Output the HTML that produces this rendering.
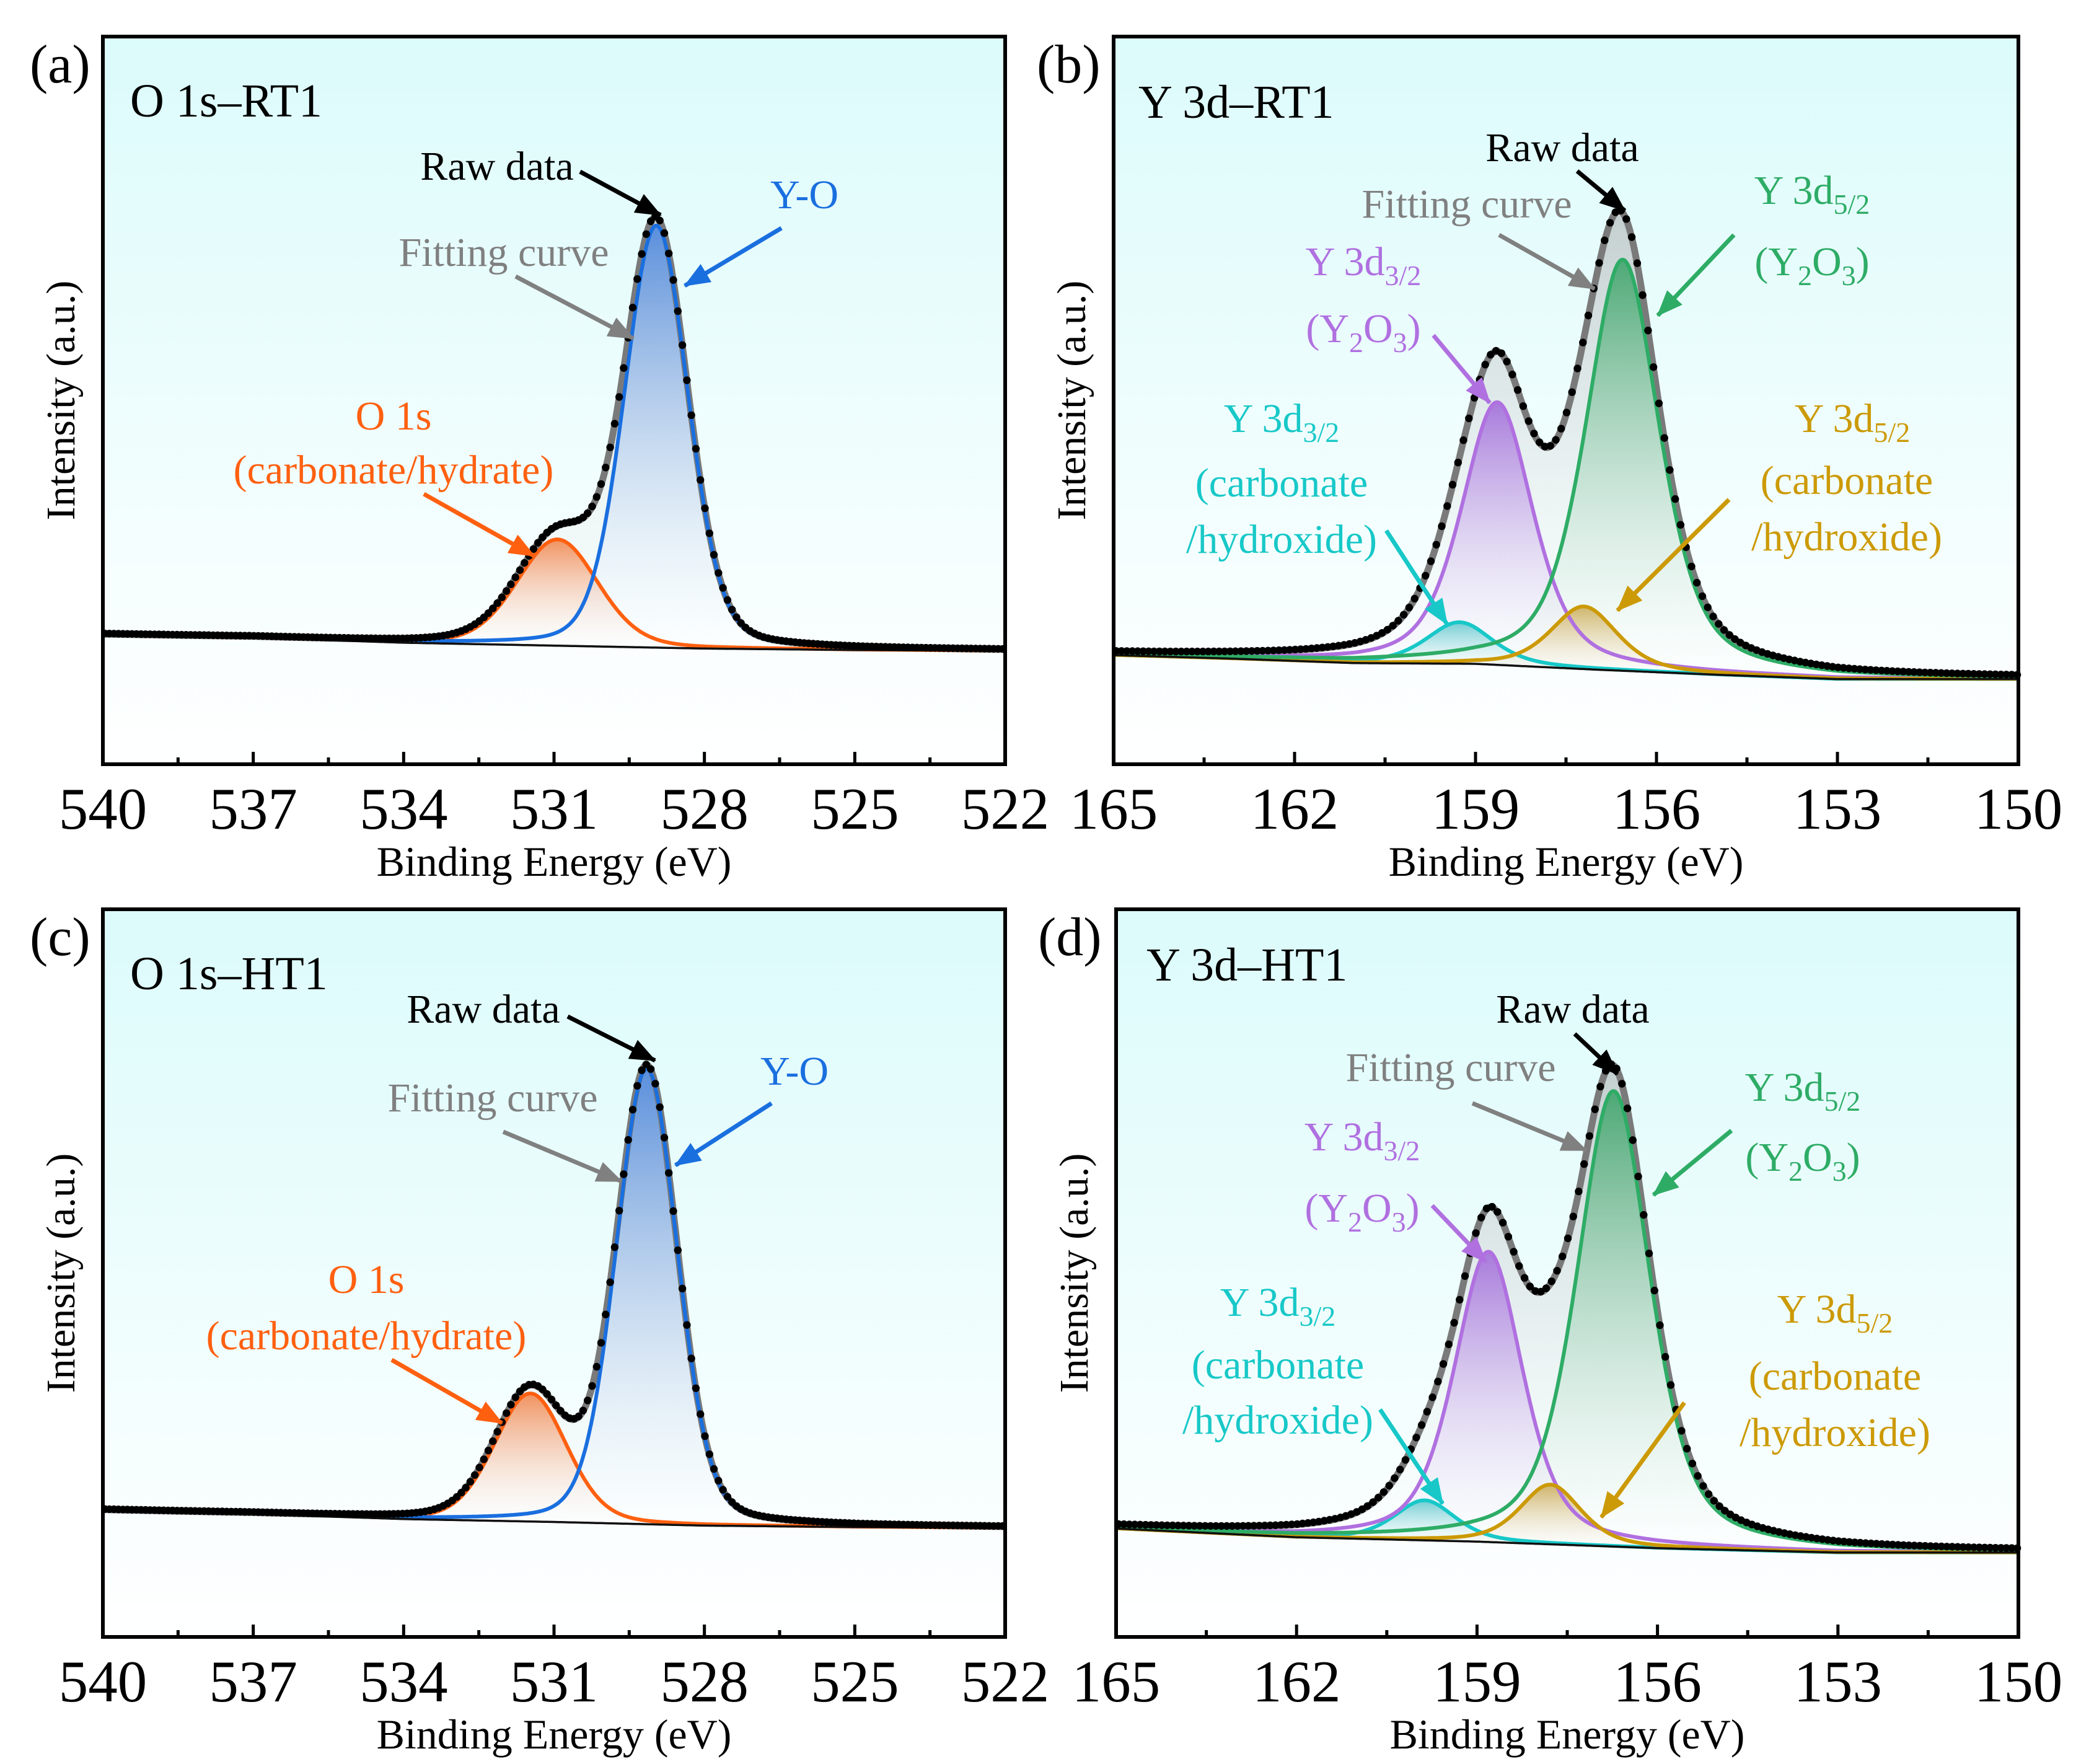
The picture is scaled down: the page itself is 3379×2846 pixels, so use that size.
<!DOCTYPE html>
<html><head><meta charset="utf-8"><style>
html,body{margin:0;padding:0;background:#fff}
svg{display:block}
text{font-family:"Liberation Serif","Times New Roman",serif}
</style></head><body>
<svg id="fig" xmlns="http://www.w3.org/2000/svg" width="3379" height="2846" viewBox="0 0 3379 2846" font-family="Liberation Serif, serif">
<defs>
<linearGradient id="plotbg" x1="0" y1="0" x2="0" y2="1"><stop offset="0" stop-color="#dcfbfb"/><stop offset="1" stop-color="#ffffff"/></linearGradient>
<marker id="ah-black" markerUnits="userSpaceOnUse" markerWidth="44" markerHeight="34" refX="40" refY="17" orient="auto"><path d="M0,0 L42,17 L0,34 Z" fill="#000"/></marker>
<marker id="ah-gray" markerUnits="userSpaceOnUse" markerWidth="44" markerHeight="34" refX="40" refY="17" orient="auto"><path d="M0,0 L42,17 L0,34 Z" fill="#808080"/></marker>
<marker id="ah-blue" markerUnits="userSpaceOnUse" markerWidth="44" markerHeight="34" refX="40" refY="17" orient="auto"><path d="M0,0 L42,17 L0,34 Z" fill="#1a6fdf"/></marker>
<marker id="ah-orange" markerUnits="userSpaceOnUse" markerWidth="44" markerHeight="34" refX="40" refY="17" orient="auto"><path d="M0,0 L42,17 L0,34 Z" fill="#ff6010"/></marker>
<marker id="ah-purple" markerUnits="userSpaceOnUse" markerWidth="44" markerHeight="34" refX="40" refY="17" orient="auto"><path d="M0,0 L42,17 L0,34 Z" fill="#b070e0"/></marker>
<marker id="ah-green" markerUnits="userSpaceOnUse" markerWidth="44" markerHeight="34" refX="40" refY="17" orient="auto"><path d="M0,0 L42,17 L0,34 Z" fill="#2eac66"/></marker>
<marker id="ah-cyan" markerUnits="userSpaceOnUse" markerWidth="44" markerHeight="34" refX="40" refY="17" orient="auto"><path d="M0,0 L42,17 L0,34 Z" fill="#18c8c8"/></marker>
<marker id="ah-gold" markerUnits="userSpaceOnUse" markerWidth="44" markerHeight="34" refX="40" refY="17" orient="auto"><path d="M0,0 L42,17 L0,34 Z" fill="#cc9a06"/></marker>
</defs>
<g id="layer-plots"></g>
<g id="layer-annot" font-size="66">
<text x="48" y="133" font-size="88">(a)</text>
<text x="1673" y="133" font-size="88">(b)</text>
<text x="48" y="1541" font-size="88">(c)</text>
<text x="1675" y="1541" font-size="88">(d)</text>
<text x="210" y="188" font-size="76">O 1s–RT1</text>
<text x="1837" y="190" font-size="76">Y 3d–RT1</text>
<text x="210" y="1596" font-size="76">O 1s–HT1</text>
<text x="1850" y="1582" font-size="76">Y 3d–HT1</text>

<text x="802" y="290" text-anchor="middle">Raw data</text>
<line x1="936" y1="277" x2="1066" y2="347" stroke="#000" stroke-width="7" marker-end="url(#ah-black)"/>
<text x="1298" y="336" text-anchor="middle" fill="#1a6fdf">Y-O</text>
<line x1="1261" y1="368" x2="1105" y2="461" stroke="#1a6fdf" stroke-width="7" marker-end="url(#ah-blue)"/>
<text x="813" y="429" text-anchor="middle" fill="#808080">Fitting curve</text>
<line x1="832" y1="446" x2="1022" y2="546" stroke="#808080" stroke-width="7" marker-end="url(#ah-gray)"/>
<text x="635" y="693" text-anchor="middle" fill="#ff6010">O 1s</text>
<text x="635" y="780" text-anchor="middle" fill="#ff6010">(carbonate/hydrate)</text>
<line x1="684" y1="797" x2="862" y2="897" stroke="#ff6010" stroke-width="7" marker-end="url(#ah-orange)"/>

<text x="780" y="1650" text-anchor="middle">Raw data</text>
<line x1="916" y1="1640" x2="1057" y2="1711" stroke="#000" stroke-width="7" marker-end="url(#ah-black)"/>
<text x="1282" y="1750" text-anchor="middle" fill="#1a6fdf">Y-O</text>
<line x1="1245" y1="1780" x2="1090" y2="1880" stroke="#1a6fdf" stroke-width="7" marker-end="url(#ah-blue)"/>
<text x="795" y="1793" text-anchor="middle" fill="#808080">Fitting curve</text>
<line x1="812" y1="1826" x2="1003" y2="1906" stroke="#808080" stroke-width="7" marker-end="url(#ah-gray)"/>
<text x="591" y="2086" text-anchor="middle" fill="#ff6010">O 1s</text>
<text x="591" y="2177" text-anchor="middle" fill="#ff6010">(carbonate/hydrate)</text>
<line x1="632" y1="2194" x2="810" y2="2296" stroke="#ff6010" stroke-width="7" marker-end="url(#ah-orange)"/>

<text x="2521" y="260" text-anchor="middle">Raw data</text>
<line x1="2545" y1="276" x2="2622" y2="340" stroke="#000" stroke-width="7" marker-end="url(#ah-black)"/>
<text x="2367" y="351" text-anchor="middle" fill="#808080">Fitting curve</text>
<line x1="2419" y1="379" x2="2573" y2="466" stroke="#808080" stroke-width="7" marker-end="url(#ah-gray)"/>
<text x="2924" y="329" text-anchor="middle" fill="#2eac66">Y 3d<tspan font-size="46" dy="16">5/2</tspan></text>
<text x="2924" y="444" text-anchor="middle" fill="#2eac66">(Y<tspan font-size="46" dy="16">2</tspan><tspan dy="-16">O</tspan><tspan font-size="46" dy="16">3</tspan><tspan dy="-16">)</tspan></text>
<line x1="2798" y1="379" x2="2675" y2="509" stroke="#2eac66" stroke-width="7" marker-end="url(#ah-green)"/>
<text x="2200" y="444" text-anchor="middle" fill="#b070e0">Y 3d<tspan font-size="46" dy="16">3/2</tspan></text>
<text x="2200" y="552" text-anchor="middle" fill="#b070e0">(Y<tspan font-size="46" dy="16">2</tspan><tspan dy="-16">O</tspan><tspan font-size="46" dy="16">3</tspan><tspan dy="-16">)</tspan></text>
<line x1="2313" y1="541" x2="2404" y2="650" stroke="#b070e0" stroke-width="7" marker-end="url(#ah-purple)"/>
<text x="2068" y="697" text-anchor="middle" fill="#18c8c8">Y 3d<tspan font-size="46" dy="16">3/2</tspan></text>
<text x="2068" y="801" text-anchor="middle" fill="#18c8c8">(carbonate</text>
<text x="2068" y="892" text-anchor="middle" fill="#18c8c8">/hydroxide)</text>
<line x1="2237" y1="856" x2="2335" y2="1007" stroke="#18c8c8" stroke-width="7" marker-end="url(#ah-cyan)"/>
<text x="2989" y="697" text-anchor="middle" fill="#cc9a06">Y 3d<tspan font-size="46" dy="16">5/2</tspan></text>
<text x="2980" y="797" text-anchor="middle" fill="#cc9a06">(carbonate</text>
<text x="2980" y="888" text-anchor="middle" fill="#cc9a06">/hydroxide)</text>
<line x1="2790" y1="806" x2="2610" y2="985" stroke="#cc9a06" stroke-width="7" marker-end="url(#ah-gold)"/>

<text x="2538" y="1650" text-anchor="middle">Raw data</text>
<line x1="2541" y1="1668" x2="2610" y2="1733" stroke="#000" stroke-width="7" marker-end="url(#ah-black)"/>
<text x="2341" y="1744" text-anchor="middle" fill="#808080">Fitting curve</text>
<line x1="2376" y1="1780" x2="2560" y2="1856" stroke="#808080" stroke-width="7" marker-end="url(#ah-gray)"/>
<text x="2909" y="1776" text-anchor="middle" fill="#2eac66">Y 3d<tspan font-size="46" dy="16">5/2</tspan></text>
<text x="2909" y="1889" text-anchor="middle" fill="#2eac66">(Y<tspan font-size="46" dy="16">2</tspan><tspan dy="-16">O</tspan><tspan font-size="46" dy="16">3</tspan><tspan dy="-16">)</tspan></text>
<line x1="2794" y1="1824" x2="2668" y2="1928" stroke="#2eac66" stroke-width="7" marker-end="url(#ah-green)"/>
<text x="2198" y="1856" text-anchor="middle" fill="#b070e0">Y 3d<tspan font-size="46" dy="16">3/2</tspan></text>
<text x="2198" y="1971" text-anchor="middle" fill="#b070e0">(Y<tspan font-size="46" dy="16">2</tspan><tspan dy="-16">O</tspan><tspan font-size="46" dy="16">3</tspan><tspan dy="-16">)</tspan></text>
<line x1="2311" y1="1945" x2="2398" y2="2036" stroke="#b070e0" stroke-width="7" marker-end="url(#ah-purple)"/>
<text x="2062" y="2123" text-anchor="middle" fill="#18c8c8">Y 3d<tspan font-size="46" dy="16">3/2</tspan></text>
<text x="2062" y="2224" text-anchor="middle" fill="#18c8c8">(carbonate</text>
<text x="2062" y="2313" text-anchor="middle" fill="#18c8c8">/hydroxide)</text>
<line x1="2227" y1="2274" x2="2328" y2="2426" stroke="#18c8c8" stroke-width="7" marker-end="url(#ah-cyan)"/>
<text x="2961" y="2134" text-anchor="middle" fill="#cc9a06">Y 3d<tspan font-size="46" dy="16">5/2</tspan></text>
<text x="2961" y="2242" text-anchor="middle" fill="#cc9a06">(carbonate</text>
<text x="2961" y="2333" text-anchor="middle" fill="#cc9a06">/hydroxide)</text>
<line x1="2718" y1="2263" x2="2584" y2="2448" stroke="#cc9a06" stroke-width="7" marker-end="url(#ah-gold)"/>
</g>
</svg>
<script>
// ---- data: O 1s RT1 (panel a) ----
const aTicks = [540, 537, 534, 531, 528, 525, 522];
const aCenters = [530.93, 528.96];
const aHeights = [14.6, 58.0];
const aFwhm = [1.9, 1.5];
const aBgE = [540, 537, 534, 531, 528, 525, 522];
const aBgV = [17.8, 17.4, 16.7, 16.3, 15.9, 15.7, 15.6];
// ---- data: Y 3d RT1 (panel b) ----
const bTicks = [165, 162, 159, 156, 153, 150];
const bCenters = [159.27, 158.64, 157.2, 156.56];
const bHeights = [5.7, 36.1, 8.6, 56.5];
const bFwhm = [1.3, 1.4, 1.3, 1.45];
const bBgE = [165, 163, 161, 159, 157, 155, 153, 150];
const bBgV = [15.0, 14.5, 13.9, 13.8, 13.0, 12.3, 11.7, 11.7];
// ---- data: O 1s HT1 (panel c) ----
const cTicks = [540, 537, 534, 531, 528, 525, 522];
const cCenters = [531.47, 529.15];
const cHeights = [17.6, 62.6];
const cFwhm = [1.7, 1.45];
const cBgE = [540, 537, 534, 531, 528, 525, 522];
const cBgV = [17.4, 16.9, 16.2, 15.8, 15.3, 15.1, 15.0];
// ---- data: Y 3d HT1 (panel d) ----
const dTicks = [165, 162, 159, 156, 153, 150];
const dCenters = [159.87, 158.81, 157.78, 156.73];
const dHeights = [5.5, 39.9, 8.2, 62.6];
const dFwhm = [1.2, 1.35, 1.2, 1.45];
const dBgE = [165, 162, 159, 156, 153, 150];
const dBgV = [14.9, 13.7, 13.1, 12.2, 11.6, 11.6];

const NS = "http://www.w3.org/2000/svg";
const root = document.getElementById('layer-plots');
const defs = document.querySelector('defs');
function mk(tag, attrs, parent) {
  const el = document.createElementNS(NS, tag);
  for (const k in attrs) el.setAttribute(k, attrs[k]);
  (parent || root).appendChild(el);
  return el;
}
function pv(E, c, h, w, eta) {
  const d = E - c, q = 4 * d * d / (w * w);
  return h * ((1 - eta) * Math.exp(-Math.LN2 * q) + eta / (1 + q));
}
function interp(E, xs, ys) {
  for (let i = 0; i < xs.length - 1; i++) {
    const a = xs[i], b = xs[i + 1];
    if ((E <= a && E >= b) || (E >= a && E <= b)) {
      const t = (E - a) / (b - a);
      return ys[i] + t * (ys[i + 1] - ys[i]);
    }
  }
  return E > Math.max(xs[0], xs[xs.length-1]) ? ys[0] : ys[ys.length - 1];
}
function gradient(id, color, topOp) {
  const g = mk('linearGradient', {id: id, x1: 0, y1: 0, x2: 0, y2: 1}, defs);
  mk('stop', {offset: 0, 'stop-color': color, 'stop-opacity': topOp}, g);
  mk('stop', {offset: 1, 'stop-color': '#ffffff', 'stop-opacity': 0.15}, g);
}

function panel(p) {
  const g = mk('g', {});
  
  
  const X = E => p.x0 + (p.emax - E) / (p.emax - p.emin) * (p.x1 - p.x0);
  const Y = v => p.y1 - v / 100 * (p.y1 - p.y0);
  const bg = E => interp(E, p.bgE, p.bgV);
  const bgRect = mk('rect', {x: p.x0, y: p.y0, width: p.x1 - p.x0, height: p.y1 - p.y0, fill: 'url(#plotbg)'}, g);
  
  
  const step = 0.02;
  const Es = [];
  for (let E = p.emax; E >= p.emin - 1e-9; E -= step) Es.push(E);
  const env = E => { let s = bg(E); for (let i = 0; i < p.centers.length; i++) s += pv(E, p.centers[i], p.heights[i], p.fwhm[i], p.eta); return s; };
  const bgBack = Es.slice().reverse().map(E => X(E).toFixed(1) + ',' + Y(bg(E)).toFixed(1)).join(' L');
  gradient('gf-env-' + p.id, '#a8a8a8', 0.55);
  const envPts = Es.map(E => X(E).toFixed(1) + ',' + Y(env(E)).toFixed(1));
  const ef = mk('path', {d: 'M' + envPts.join(' L') + ' L' + bgBack + ' Z', fill: 'url(#gf-env-' + p.id + ')'}, g);
  
  
  for (let i = 0; i < p.centers.length; i++) {
    gradient('gf-' + p.id + i, p.fills[i], 0.8);
    const sub = Es.filter(E => Math.abs(E - p.centers[i]) < p.fwhm[i] * 3);
    const top = sub.map(E => X(E).toFixed(1) + ',' + Y(bg(E) + pv(E, p.centers[i], p.heights[i], p.fwhm[i], p.eta)).toFixed(1));
    const bot = sub.slice().reverse().map(E => X(E).toFixed(1) + ',' + Y(bg(E)).toFixed(1));
    const f = mk('path', {d: 'M' + top.join(' L') + ' L' + bot.join(' L') + ' Z', fill: 'url(#gf-' + p.id + i + ')'}, g);
    
    
  }
  const el = mk('path', {d: 'M' + envPts.join(' L'), fill: 'none', stroke: '#7a7a7a', 'stroke-width': 11, 'stroke-linejoin': 'round'}, g);
  
  
  for (let i = 0; i < p.centers.length; i++) {
    const pts = Es.map(E => X(E).toFixed(1) + ',' + Y(bg(E) + pv(E, p.centers[i], p.heights[i], p.fwhm[i], p.eta)).toFixed(1));
    const l = mk('path', {d: 'M' + pts.join(' L'), fill: 'none', stroke: p.lines[i], 'stroke-width': 6, 'stroke-linejoin': 'round'}, g);
    
    
  }
  const bl = mk('path', {d: 'M' + Es.map(E => X(E).toFixed(1) + ',' + Y(bg(E)).toFixed(1)).join(' L'), fill: 'none', stroke: '#111', 'stroke-width': 3.5}, g);
  
  
  const rg = mk('g', {fill: '#000'}, g);
  
  
  for (let E = p.emax - 0.04; E >= p.emin; E -= 0.09) {
    const c = mk('circle', {cx: X(E).toFixed(1), cy: (Y(env(E)) - 1).toFixed(1), r: 6.2}, rg);
    
    
  }
  const fr = mk('rect', {x: p.x0, y: p.y0, width: p.x1 - p.x0, height: p.y1 - p.y0, fill: 'none', stroke: '#000', 'stroke-width': 6}, g);
  
  
  for (let i = 0; i < p.ticks.length; i++) {
    const t = p.ticks[i];
    const x = X(t);
    if (i > 0 && i < p.ticks.length - 1) {
      const tk = mk('line', {x1: x, x2: x, y1: p.y1, y2: p.y1 - 20, stroke: '#000', 'stroke-width': 5}, g);
      
      
    }
    if (i < p.ticks.length - 1) {
      const xm = X((t + p.ticks[i + 1]) / 2);
      const mt = mk('line', {x1: xm, x2: xm, y1: p.y1, y2: p.y1 - 11, stroke: '#000', 'stroke-width': 5}, g);
      
      
    }
    const tl = mk('text', {x: x, y: p.y1 + 104, 'text-anchor': 'middle', 'font-size': 95}, g);
    tl.textContent = String(t);
    
    
  }
  const xt = mk('text', {x: (p.x0 + p.x1) / 2, y: p.y1 + 180, 'text-anchor': 'middle', 'font-size': 68}, g);
  xt.textContent = 'Binding Energy (eV)';
  
  
  const cy = (p.y0 + p.y1) / 2;
  const yt = mk('text', {x: p.x0 - 46, y: cy, 'text-anchor': 'middle', 'font-size': 66, transform: 'rotate(-90 ' + (p.x0 - 46) + ' ' + cy + ')'}, g);
  yt.textContent = 'Intensity (a.u.)';
  
  
}

const oLines = ['#ff6010', '#1a6fdf'], oFills = ['#f07838', '#3f7fe0'];
const yLines = ['#18c8c8', '#b070e0', '#cc9a06', '#2eac66'], yFills = ['#18b8b8', '#9a5ed8', '#c08a10', '#2e9e5e'];
panel({id: 'a', x0: 166, y0: 59, x1: 1622, y1: 1233, emax: 540, emin: 522, ticks: aTicks, centers: aCenters, heights: aHeights, fwhm: aFwhm, bgE: aBgE, bgV: aBgV, eta: 0.2, lines: oLines, fills: oFills, names: ['o1s-carbonate-a', 'y-o-a']});
panel({id: 'b', x0: 1797, y0: 59, x1: 3257, y1: 1233, emax: 165, emin: 150, ticks: bTicks, centers: bCenters, heights: bHeights, fwhm: bFwhm, bgE: bBgE, bgV: bBgV, eta: 0.5, lines: yLines, fills: yFills, names: ['y3d32-carb-b', 'y3d32-y2o3-b', 'y3d52-carb-b', 'y3d52-y2o3-b']});
panel({id: 'c', x0: 166, y0: 1467, x1: 1622, y1: 2641, emax: 540, emin: 522, ticks: cTicks, centers: cCenters, heights: cHeights, fwhm: cFwhm, bgE: cBgE, bgV: cBgV, eta: 0.2, lines: oLines, fills: oFills, names: ['o1s-carbonate-c', 'y-o-c']});
panel({id: 'd', x0: 1801, y0: 1467, x1: 3257, y1: 2641, emax: 165, emin: 150, ticks: dTicks, centers: dCenters, heights: dHeights, fwhm: dFwhm, bgE: dBgE, bgV: dBgV, eta: 0.5, lines: yLines, fills: yFills, names: ['y3d32-carb-d', 'y3d32-y2o3-d', 'y3d52-carb-d', 'y3d52-y2o3-d']});
</script>
</body></html>
